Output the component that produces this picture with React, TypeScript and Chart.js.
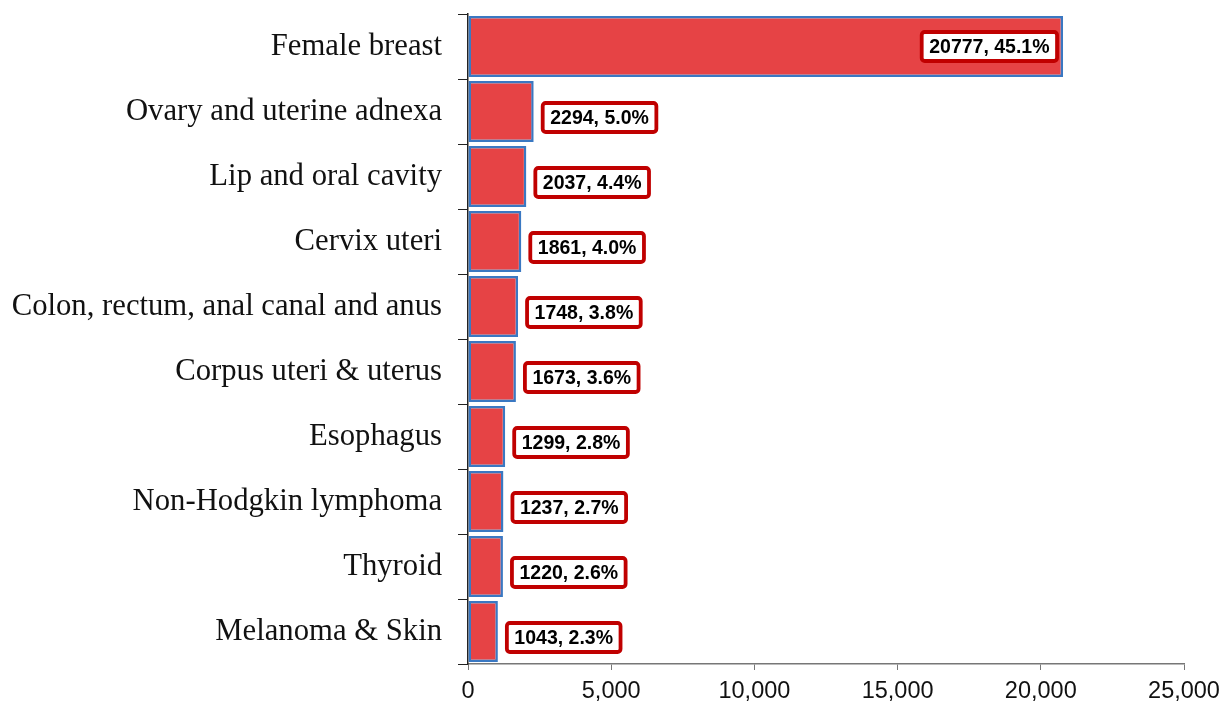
import React, { useEffect, useRef } from "react";
import { Chart, registerables } from "chart.js";

Chart.register(...registerables);

const categories = [
  "Female breast",
  "Ovary and uterine adnexa",
  "Lip and oral cavity",
  "Cervix uteri",
  "Colon, rectum, anal canal and anus",
  "Corpus uteri & uterus",
  "Esophagus",
  "Non-Hodgkin lymphoma",
  "Thyroid",
  "Melanoma & Skin",
];
const counts = [20777, 2294, 2037, 1861, 1748, 1673, 1299, 1237, 1220, 1043];
const percents = ["45.1", "5.0", "4.4", "4.0", "3.8", "3.6", "2.8", "2.7", "2.6", "2.3"];
const xTicks = [0, 5000, 10000, 15000, 20000, 25000];

const labelPlugin = {
  id: "boxLabels",
  afterDatasetsDraw(chart: any) {
    const ctx = chart.ctx;
    const meta = chart.getDatasetMeta(0);
    ctx.save();
    ctx.font = "bold 19.5px Arial, 'Liberation Sans', sans-serif";
    ctx.textBaseline = "middle";
    ctx.textAlign = "left";
    meta.data.forEach((bar: any, i: number) => {
      const text = `${counts[i]}, ${percents[i]}%`;
      const tw = ctx.measureText(text).width;
      const w = tw + 15;
      const h = 29;
      const barLen = bar.x - bar.base;
      const inside = barLen > w + 20;
      const left = inside ? bar.x - 6 - w : bar.x + 9;
      const top = bar.y - h / 2 + (inside ? 0 : 6);
      ctx.beginPath();
      (ctx as any).roundRect(left, top, w, h, 3);
      ctx.fillStyle = "#ffffff";
      ctx.fill();
      ctx.lineWidth = 3.8;
      ctx.strokeStyle = "#C00000";
      ctx.stroke();
      ctx.fillStyle = "#000000";
      ctx.fillText(text, left + 7.5, top + h / 2 + 1);
    });
    ctx.restore();
  },
};

export default function App() {
  const ref = useRef<HTMLCanvasElement>(null);
  useEffect(() => {
    if (!ref.current) return;
    const chart = new Chart(ref.current, {
      type: "bar",
      data: {
        labels: categories,
        datasets: [
          {
            data: counts,
            backgroundColor: "#E64345",
            borderColor: "#3A78C2",
            borderWidth: 2.5,
            borderSkipped: false,
            barPercentage: 0.94,
            categoryPercentage: 1,
          },
        ],
      },
      options: {
        indexAxis: "y",
        animation: false,
        responsive: false,
        maintainAspectRatio: false,
        layout: { padding: { left: 0, right: 38, top: 14, bottom: 0 } },
        plugins: {
          legend: { display: false },
          tooltip: { enabled: false },
        },
        scales: {
          x: {
            min: 0,
            max: 25000,
            afterBuildTicks: (s: any) => {
              s.ticks = xTicks.map((v) => ({ value: v }));
            },
            afterFit: (s: any) => {
              s.height = 38;
              s.paddingLeft = 0;
              s.paddingRight = 0;
            },
            grid: {
              drawOnChartArea: false,
              drawTicks: true,
              tickLength: 6,
              color: "#777777",
            },
            border: { color: "#777777", width: 1.5 },
            ticks: {
              padding: 7,
              color: "#111111",
              font: { family: "Arial, 'Liberation Sans', sans-serif", size: 23.5 },
              callback: (v: any) => Number(v).toLocaleString("en-US"),
            },
          },
          y: {
            afterFit: (s: any) => {
              s.width = 468;
              s.paddingTop = 0;
              s.paddingBottom = 0;
            },
            grid: {
              offset: true,
              drawOnChartArea: false,
              drawTicks: true,
              tickLength: 10,
              color: "#222222",
            },
            border: { color: "#222222", width: 1.5 },
            ticks: {
              padding: 16,
              color: "#111111",
              font: { family: "'Liberation Serif', 'Times New Roman', serif", size: 30.7 },
            },
          },
        },
      },
      plugins: [labelPlugin],
    });
    return () => chart.destroy();
  }, []);
  return (
    <div style={{ position: "fixed", left: 0, top: 0, width: 1222, height: 702, background: "#fff" }}>
      <canvas ref={ref} width={1222} height={702} style={{ width: 1222, height: 702 }} />
    </div>
  );
}
